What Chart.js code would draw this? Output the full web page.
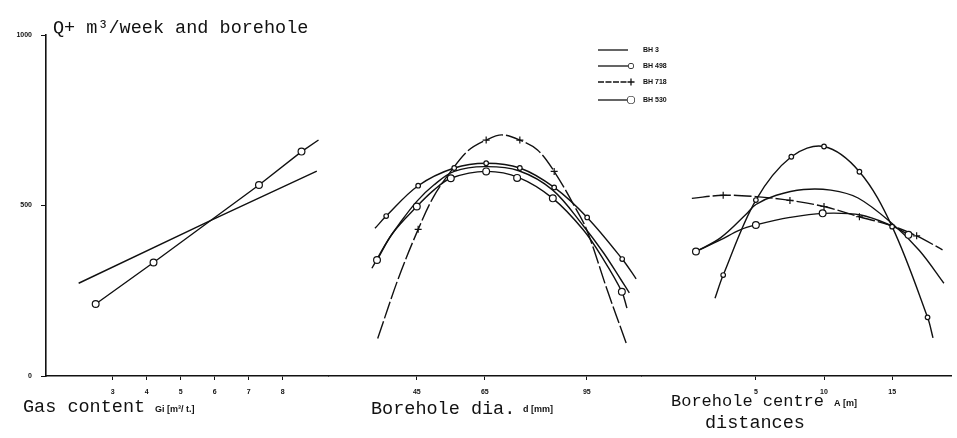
<!DOCTYPE html>
<html><head><meta charset="utf-8">
<script src="https://cdn.jsdelivr.net/npm/chart.js@4.4.1/dist/chart.umd.min.js"></script>
<style>html,body{margin:0;padding:0;background:#fff;}canvas{display:block;}</style>
</head><body>
<canvas id="c" width="957" height="438"></canvas>
<script>
// ===== data =====
const seriesNames = ['BH 3', 'BH 498', 'BH 718', 'BH 530'];
const yTicks = [0, 500, 1000];

// Panel 1: gas content Gi [m3/t]
const gasTicks = [3, 4, 5, 6, 7, 8];
const gasBH3X = [2.0, 5.95, 9.0];
const gasBH3Y = [272, 459, 601];
const gasBH530X = [2.5, 4.2, 5.95, 7.3, 8.55, 9.05];
const gasBH530Y = [211, 333, 461, 560, 658, 692];
const gasBH530MarkX = [2.5, 4.2, 7.3, 8.55];
const gasBH530MarkY = [211, 333, 560, 658];

// Panel 2: borehole diameter d [mm]
const diaTicks = [45, 65, 95];
const diaBH3X = [31.8, 36, 40, 45, 50, 56, 65, 75, 85, 94, 100, 105, 107.5];
const diaBH3Y = [316, 390, 448, 512, 560, 600, 614, 602, 545, 440, 360, 283, 244];
const diaBH498X = [32.7, 36, 45.4, 56, 65.4, 75.3, 85.4, 95.1, 105.4, 109.5];
const diaBH498Y = [433, 469, 558, 610, 624, 610, 553, 465, 343, 285];
const diaBH498MarkX = [36, 45.4, 56, 65.4, 75.3, 85.4, 95.1, 105.4];
const diaBH498MarkY = [469, 558, 610, 624, 610, 553, 465, 343];
const diaBH718X = [33.5, 39.6, 45.4, 50, 55, 60, 65.4, 70, 75.3, 80.5, 85.4, 91.7, 95, 101, 106.6];
const diaBH718Y = [110, 287, 430, 527, 600, 660, 692, 707, 692, 663, 600, 492, 428, 252, 96];
const diaBH718MarkX = [45.4, 65.4, 75.3, 85.4];
const diaBH718MarkY = [430, 692, 692, 600];
const diaBH530X = [33.3, 38, 45, 50, 55, 65.4, 75, 85, 94, 100, 105.3, 106.8];
const diaBH530Y = [340, 420, 497, 545, 580, 600, 582, 521, 428, 340, 247, 199];
const diaBH530MarkX = [33.3, 45, 55, 65.4, 74.5, 85, 105.3];
const diaBH530MarkY = [340, 497, 580, 600, 581, 521, 247];

// Panel 3: borehole centre distance A [m]
const distTicks = [5, 10, 15];
const distBH3X = [0.6, 2.4, 4.3, 5.0, 6.5, 8.5, 10.5, 12.5, 15.0, 17.0, 18.8];
const distBH3Y = [365, 405, 475, 503, 530, 547, 545, 522, 447, 368, 272];
const distBH498X = [2.0, 2.6, 5.0, 7.6, 10.0, 12.6, 15.0, 17.6, 18.0];
const distBH498Y = [228, 296, 516, 643, 673, 599, 438, 172, 112];
const distBH498MarkX = [2.6, 5.0, 7.6, 10.0, 12.6, 15.0, 17.6];
const distBH498MarkY = [296, 516, 643, 673, 599, 438, 172];
const distBH718X = [0.3, 2.6, 5.0, 7.5, 10.0, 12.6, 15.0, 16.8, 18.7];
const distBH718Y = [521, 530, 526, 515, 497, 467, 440, 411, 370];
const distBH718MarkX = [2.6, 7.5, 10.0, 12.6, 16.8];
const distBH718MarkY = [530, 515, 497, 467, 411];
const distBH530X = [0.6, 2.4, 3.8, 5.0, 7.5, 9.9, 12.7, 15.0, 16.2];
const distBH530Y = [365, 399, 428, 443, 465, 477, 472, 440, 414];
const distBH530MarkX = [0.6, 5.0, 9.9, 16.2];
const distBH530MarkY = [365, 443, 477, 414];

// ===== styling =====
const INK = '#111';
const seriesStyle = {
  'BH 3':   {dash: [],      pointStyle: false,    radius: 0},
  'BH 498': {dash: [],      pointStyle: 'circle', radius: 2.3},
  'BH 718': {dash: [18, 3], pointStyle: 'cross',  radius: 3.5},
  'BH 530': {dash: [],      pointStyle: 'circle', radius: 3.4}
};
const pts = (xs, ys) => xs.map((x, i) => ({x: x, y: ys[i]}));
function lineDs(axis, name, xs, ys, straight) {
  return {
    label: name, xAxisID: axis, yAxisID: 'y', data: pts(xs, ys),
    borderColor: INK, borderWidth: 1.4, borderDash: seriesStyle[name].dash,
    pointRadius: 0, fill: false, order: 2,
    tension: straight ? 0 : 0.35
  };
}
function markDs(axis, name, xs, ys) {
  const s = seriesStyle[name];
  return {
    label: name + ' points', xAxisID: axis, yAxisID: 'y', data: pts(xs, ys),
    showLine: false, pointStyle: s.pointStyle, pointRadius: s.radius,
    pointBackgroundColor: '#fff', pointBorderColor: INK, pointBorderWidth: 1.2,
    order: 1
  };
}

const datasets = [
  lineDs('x1', 'BH 3', gasBH3X, gasBH3Y, true),
  lineDs('x1', 'BH 530', gasBH530X, gasBH530Y, true),
  markDs('x1', 'BH 530', gasBH530MarkX, gasBH530MarkY),

  lineDs('x2', 'BH 3', diaBH3X, diaBH3Y),
  lineDs('x2', 'BH 498', diaBH498X, diaBH498Y),
  markDs('x2', 'BH 498', diaBH498MarkX, diaBH498MarkY),
  lineDs('x2', 'BH 718', diaBH718X, diaBH718Y),
  markDs('x2', 'BH 718', diaBH718MarkX, diaBH718MarkY),
  lineDs('x2', 'BH 530', diaBH530X, diaBH530Y),
  markDs('x2', 'BH 530', diaBH530MarkX, diaBH530MarkY),

  lineDs('x3', 'BH 3', distBH3X, distBH3Y),
  lineDs('x3', 'BH 498', distBH498X, distBH498Y),
  markDs('x3', 'BH 498', distBH498MarkX, distBH498MarkY),
  lineDs('x3', 'BH 718', distBH718X, distBH718Y),
  markDs('x3', 'BH 718', distBH718MarkX, distBH718MarkY),
  lineDs('x3', 'BH 530', distBH530X, distBH530Y),
  markDs('x3', 'BH 530', distBH530MarkX, distBH530MarkY)
];

const tickFont = {family: '"Liberation Sans"', size: 7, weight: 'bold'};
function xAxis(min, max, weight, ticks) {
  return {
    type: 'linear', position: 'bottom', stack: 'panels', stackWeight: weight,
    min: min, max: max,
    afterBuildTicks: s => { s.ticks = ticks.map(v => ({value: v})); },
    afterFit: s => { s.height = 62; },
    grid: {display: true, drawOnChartArea: false, drawTicks: true, tickLength: 4, color: INK, tickWidth: 1},
    border: {display: true, color: INK, width: 1.6},
    ticks: {autoSkip: false, maxRotation: 0, padding: 8, color: INK, font: tickFont,
            callback: v => String(v)}
  };
}

const textPlugin = {
  id: 'figureText',
  afterDraw(chart) {
    const ctx = chart.ctx;
    ctx.save();
    ctx.fillStyle = INK;
    ctx.textAlign = 'left';
    ctx.textBaseline = 'alphabetic';
    ctx.font = '18.5px "Liberation Mono"';
    ctx.fillText('Q+ m\u00B3/week and borehole', 53, 33);
    ctx.fillText('Gas content', 23, 412);
    ctx.fillText('Borehole dia.', 371, 414);
    ctx.fillText('distances', 705, 428);
    ctx.font = '17px "Liberation Mono"';
    ctx.fillText('Borehole centre', 671, 406);
    ctx.font = 'bold 9px "Liberation Sans"';
    ctx.fillText('Gi [m\u00B3/ t.]', 155, 412);
    ctx.fillText('d [mm]', 523, 412);
    ctx.fillText('A [m]', 834, 406);

    // legend
    const legendY = [50, 66, 82, 100];
    seriesNames.forEach((name, i) => {
      const s = seriesStyle[name];
      const y = legendY[i];
      ctx.strokeStyle = INK;
      ctx.lineWidth = 1.3;
      ctx.setLineDash(s.dash.length ? [6, 1.5] : []);
      ctx.beginPath();
      ctx.moveTo(598, y);
      ctx.lineTo(628, y);
      ctx.stroke();
      ctx.setLineDash([]);
      if (s.pointStyle) {
        ctx.fillStyle = '#fff';
        Chart.helpers.drawPoint(ctx, {pointStyle: s.pointStyle, radius: s.radius, borderWidth: 1.2, rotation: 0}, 631, y);
        ctx.fill();
      }
      ctx.fillStyle = INK;
      ctx.font = 'bold 7px "Liberation Sans"';
      ctx.textBaseline = 'middle';
      ctx.fillText(name, 643, y);
    });
    ctx.restore();
  }
};

new Chart(document.getElementById('c'), {
  type: 'line',
  data: {datasets: datasets},
  options: {
    responsive: false, animation: false, devicePixelRatio: 1,
    layout: {padding: {top: 35, right: 0, bottom: 0, left: 0}},
    plugins: {legend: {display: false}, tooltip: {enabled: false}},
    scales: {
      x1: xAxis(1.04, 9.34, 284, gasTicks),
      x2: xAxis(19.0, 111.1, 315, diaTicks),
      x3: xAxis(-3.39, 19.38, 312, distTicks),
      y: {
        type: 'linear', position: 'left', min: 0, max: 1000,
        afterBuildTicks: s => { s.ticks = yTicks.map(v => ({value: v})); },
        afterFit: s => { s.width = 46; },
        grid: {display: true, drawOnChartArea: false, drawTicks: true, tickLength: 5, color: INK},
        border: {display: true, color: INK, width: 1.6},
        ticks: {padding: 9, color: INK, font: tickFont, callback: v => String(v)}
      }
    }
  },
  plugins: [textPlugin]
});
</script>
</body></html>
